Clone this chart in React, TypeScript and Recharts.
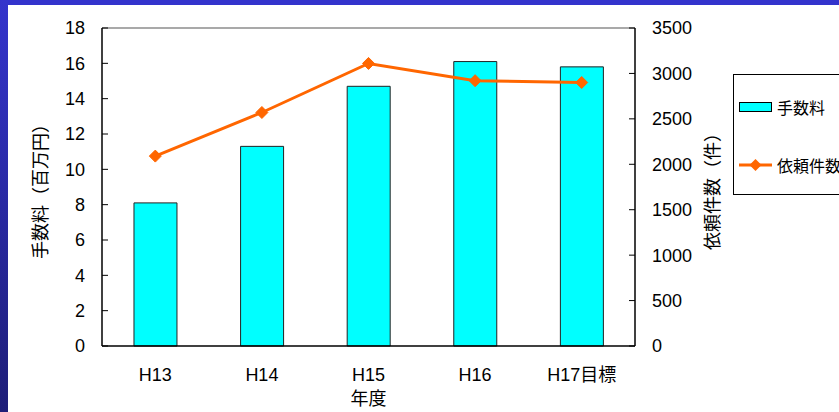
import React from 'react';
import { ComposedChart, Bar, Line, XAxis, YAxis, Legend, ReferenceLine } from 'recharts';

const categories = ['H13', 'H14', 'H15', 'H16', 'H17目標'];
const feeValues = [8.1, 11.3, 14.7, 16.1, 15.8];
const requestCounts = [2090, 2570, 3110, 2920, 2900];
const leftTicks = [0, 2, 4, 6, 8, 10, 12, 14, 16, 18];
const rightTicks = [0, 500, 1000, 1500, 2000, 2500, 3000, 3500];
const boundaryTicks = [1, 2, 3, 4];

const data = categories.map((name, i) => ({
  name,
  idx: i,
  fee: feeValues[i],
  count: requestCounts[i],
}));

const FONT = '"Liberation Sans", "Noto Sans CJK JP", sans-serif';
const ORANGE = '#FF6600';
const CYAN = '#00FFFF';

const Diamond = (props: any) => {
  const { cx, cy } = props;
  if (cx == null || cy == null) return null;
  const r = 6;
  return (
    <polygon
      points={`${cx},${cy - r} ${cx + r},${cy} ${cx},${cy + r} ${cx - r},${cy}`}
      fill={ORANGE}
      stroke={ORANGE}
    />
  );
};

const renderLegend = (props: any) => {
  const payload = props.payload || [];
  return (
    <div
      style={{
        position: 'relative',
        width: 130,
        height: 121,
        border: '1px solid #000',
        boxSizing: 'border-box',
        background: '#fff',
        fontFamily: FONT,
        fontSize: 16,
        color: '#000',
      }}
    >
      {payload.map((entry: any, i: number) => (
        <div
          key={i}
          style={{
            position: 'absolute',
            left: 5,
            top: (entry.type === 'rect' ? 32 : 90) - 10,
            height: 20,
            display: 'flex',
            alignItems: 'center',
            whiteSpace: 'nowrap',
          }}
        >
          <svg width={34} height={20} style={{ display: 'block' }}>
            {entry.type === 'rect' ? (
              <rect x={0.5} y={5.5} width={32} height={9} fill={CYAN} stroke="#000" strokeWidth={1} />
            ) : (
              <g>
                <line x1={0} y1={10} x2={33} y2={10} stroke={ORANGE} strokeWidth={3} />
                <polygon points="16.5,4 22.5,10 16.5,16 10.5,10" fill={ORANGE} />
              </g>
            )}
          </svg>
          <span style={{ marginLeft: 4 }}>{entry.value}</span>
        </div>
      ))}
    </div>
  );
};

export default function App() {
  return (
    <div
      style={{
        position: 'absolute',
        left: 0,
        top: 0,
        width: 839,
        height: 412,
        overflow: 'hidden',
        background: '#fff',
      }}
    >
      <div style={{ position: 'absolute', left: 0, top: 0, width: 839, height: 5, background: '#3333CC', zIndex: 2 }} />
      <div
        style={{
          position: 'absolute',
          left: 0,
          top: 0,
          width: 8,
          height: 412,
          background: 'linear-gradient(#3434CC, #1E1E78)',
          zIndex: 2,
        }}
      />
      <ComposedChart
        width={839}
        height={412}
        data={data}
        margin={{ top: 28, right: 0, bottom: 0, left: 0 }}
        barCategoryGap="30%"
        style={{ fontFamily: FONT }}
      >
        <XAxis
          xAxisId="edges"
          type="number"
          dataKey="idx"
          domain={[0, 5]}
          allowDataOverflow
          ticks={boundaryTicks}
          mirror
          height={0}
          tick={false}
          axisLine={false}
          tickSize={6}
          tickLine={{ stroke: '#000', strokeWidth: 1 }}
        />
        <XAxis
          dataKey="name"
          height={66}
          tickLine={false}
          tickSize={0}
          tickMargin={22}
          axisLine={{ stroke: '#000', strokeWidth: 1.5 }}
          tick={{ fill: '#000', fontSize: 18, fontFamily: FONT }}
          interval={0}
          label={{ value: '年度', position: 'insideBottom', offset: 7, fill: '#000', fontSize: 18, fontFamily: FONT }}
        />
        <YAxis
          yAxisId="left"
          orientation="left"
          width={102}
          domain={[0, 18]}
          ticks={leftTicks}
          interval={0}
          tickSize={-6}
          tickMargin={23}
          axisLine={{ stroke: '#000', strokeWidth: 1.5 }}
          tickLine={{ stroke: '#000', strokeWidth: 1 }}
          tick={{ fill: '#000', fontSize: 18, fontFamily: FONT }}
          label={{
            value: '手数料（百万円）',
            angle: -90,
            position: 'insideLeft',
            offset: 41,
            fill: '#000',
            fontSize: 18,
            fontFamily: FONT,
            style: { textAnchor: 'middle' },
          }}
        />
        <YAxis
          yAxisId="right"
          orientation="right"
          width={204}
          domain={[0, 3500]}
          ticks={rightTicks}
          interval={0}
          tickSize={-6}
          tickMargin={23}
          axisLine={{ stroke: '#000', strokeWidth: 1.5 }}
          tickLine={{ stroke: '#000', strokeWidth: 1 }}
          tick={{ fill: '#000', fontSize: 18, fontFamily: FONT, textAnchor: 'start' }}
          label={{
            value: '依頼件数（件）',
            angle: -90,
            position: 'insideLeft',
            offset: 78,
            fill: '#000',
            fontSize: 18,
            fontFamily: FONT,
            style: { textAnchor: 'middle' },
          }}
        />
        <ReferenceLine yAxisId="left" y={18} stroke="#8C8C8C" strokeWidth={1.5} />
        <Bar
          yAxisId="left"
          dataKey="fee"
          name="手数料"
          fill={CYAN}
          stroke="#222"
          strokeWidth={1}
          isAnimationActive={false}
          legendType="rect"
        />
        <Line
          yAxisId="right"
          dataKey="count"
          name="依頼件数"
          type="linear"
          stroke={ORANGE}
          strokeWidth={3}
          dot={<Diamond />}
          activeDot={false}
          isAnimationActive={false}
          legendType="line"
        />
        <Legend
          layout="vertical"
          align="center"
          verticalAlign="middle"
          wrapperStyle={{ left: 733, top: 74, width: 130, height: 121 }}
          content={renderLegend}
        />
      </ComposedChart>
    </div>
  );
}
